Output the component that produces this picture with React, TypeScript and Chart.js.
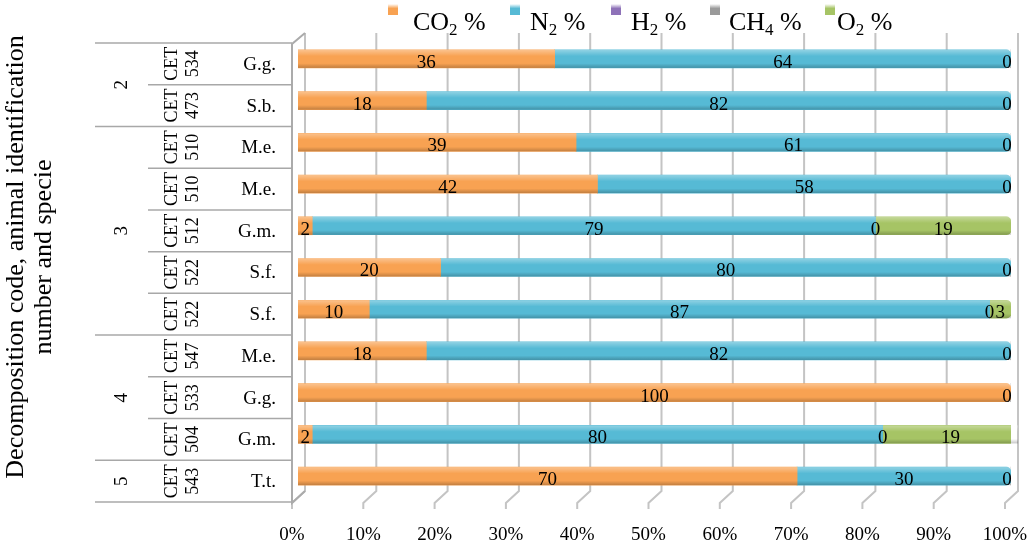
import React, { useEffect, useRef } from 'react';
import { Chart, registerables } from 'chart.js';

Chart.register(...registerables);

// rows, top to bottom
const decompositionCodes = ['2', '2', '3', '3', '3', '3', '3', '4', '4', '4', '5'];
const animalIds = ['534', '473', '510', '510', '512', '522', '522', '547', '533', '504', '543'];
const species = ['G.g.', 'S.b.', 'M.e.', 'M.e.', 'G.m.', 'S.f.', 'S.f.', 'M.e.', 'G.g.', 'G.m.', 'T.t.'];

// gas shares in %
const co2 = [36, 18, 39, 42, 2, 20, 10, 18, 100, 2, 70];
const n2 = [64, 82, 61, 58, 79, 80, 87, 82, null, 80, 30];
const h2 = [null, null, null, null, null, null, null, null, null, null, null];
const ch4 = [0, 0, 0, 0, 0, 0, 0, 0, 0, 0, 0];
const o2 = [null, null, null, null, 19, null, 3, null, null, 19, null];

const gasNames = ['CO', 'N', 'H', 'CH', 'O'];
const gasSubs = ['2', '2', '2', '4', '2'];
const gasColors = ['#F8A252', '#56BAD5', '#8E72B8', '#9A9A9A', '#A6C465'];

const xTicks = [0, 10, 20, 30, 40, 50, 60, 70, 80, 90, 100];

const FONT = "'Liberation Serif', 'Times New Roman', serif";

// 3d-ish walls and grid
const wallPlugin = {
  id: 'walls',
  beforeDatasetsDraw(chart: any) {
    const { ctx, chartArea, scales } = chart;
    ctx.save();
    ctx.strokeStyle = '#C4C4C4';
    ctx.lineWidth = 2;
    xTicks.forEach((v) => {
      const px = scales.x.getPixelForValue(v);
      const bx = px + 7;
      const fx = px - 6;
      ctx.beginPath();
      ctx.moveTo(bx, chartArea.top - 5);
      ctx.lineTo(bx, chartArea.bottom - 6);
      ctx.lineTo(fx, chartArea.bottom + 6);
      ctx.lineTo(fx, chartArea.bottom + 12);
      ctx.stroke();
    });
    const lx = chartArea.left - 6;
    ctx.strokeStyle = '#ABABAB';
    ctx.beginPath();
    ctx.moveTo(lx + 13, chartArea.top - 5);
    ctx.lineTo(lx, chartArea.top + 6);
    ctx.lineTo(lx, chartArea.bottom + 6);
    ctx.lineTo(lx + 13, chartArea.bottom - 6);
    ctx.stroke();
    ctx.restore();
  },
};

// shading on bars + value labels
const barLabelPlugin = {
  id: 'barLabels',
  afterDatasetsDraw(chart: any) {
    const { ctx } = chart;
    ctx.save();
    chart.data.datasets.forEach((ds: any, di: number) => {
      const meta = chart.getDatasetMeta(di);
      meta.data.forEach((el: any, i: number) => {
        const v = ds.data[i];
        if (v === null || v === undefined || v === 0) return;
        const left = Math.min(el.x, el.base);
        const w = Math.abs(el.x - el.base);
        const top = el.y - el.height / 2;
        const g = ctx.createLinearGradient(0, top, 0, top + el.height);
        g.addColorStop(0, 'rgba(255,255,255,0.35)');
        g.addColorStop(0.35, 'rgba(255,255,255,0)');
        g.addColorStop(0.75, 'rgba(0,0,0,0)');
        g.addColorStop(1, 'rgba(0,0,0,0.22)');
        ctx.fillStyle = g;
        ctx.fillRect(left, top, w, el.height);
      });
    });
    ctx.fillStyle = '#000';
    ctx.font = `19px ${FONT}`;
    ctx.textAlign = 'center';
    ctx.textBaseline = 'middle';
    chart.data.datasets.forEach((ds: any, di: number) => {
      const meta = chart.getDatasetMeta(di);
      meta.data.forEach((el: any, i: number) => {
        const v = ds.data[i];
        if (v === null || v === undefined) return;
        const cx = (el.x + el.base) / 2;
        ctx.fillText(String(v), Math.min(cx, chart.chartArea.right - 4), el.y + 4);
      });
    });
    ctx.restore();
  },
};

// category table, axis title, tick labels, legend
const framePlugin = {
  id: 'frame',
  afterDraw(chart: any) {
    const { ctx, chartArea, scales } = chart;
    const y = scales.y;
    const n = species.length;
    const band = (chartArea.bottom - chartArea.top) / n;
    const rowCenter = (i: number) => y.getPixelForValue(i) + 5;
    const rowEdge = (i: number) => chartArea.top + 5 + i * band;
    const tableRight = chartArea.left - 6;
    ctx.save();

    // table lines
    ctx.strokeStyle = '#A8A8A8';
    ctx.lineWidth = 1.5;
    for (let i = 0; i <= n; i++) {
      const group = i === 0 || i === n || decompositionCodes[i] !== decompositionCodes[i - 1];
      const ey = rowEdge(i);
      ctx.beginPath();
      ctx.moveTo(group ? 95 : 148, ey);
      ctx.lineTo(tableRight, ey);
      ctx.stroke();
    }

    ctx.fillStyle = '#000';
    ctx.textBaseline = 'middle';

    // group codes
    let start = 0;
    for (let i = 1; i <= n; i++) {
      if (i === n || decompositionCodes[i] !== decompositionCodes[start]) {
        const cy = (rowEdge(start) + rowEdge(i)) / 2;
        ctx.save();
        ctx.translate(122, cy);
        ctx.rotate(-Math.PI / 2);
        ctx.font = `19px ${FONT}`;
        ctx.textAlign = 'center';
        ctx.fillText(decompositionCodes[start], 0, 0);
        ctx.restore();
        start = i;
      }
    }

    // animal ids and species
    for (let i = 0; i < n; i++) {
      const cy = rowCenter(i);
      ctx.save();
      ctx.translate(182, cy);
      ctx.rotate(-Math.PI / 2);
      ctx.font = `18px ${FONT}`;
      ctx.textAlign = 'center';
      ctx.fillText('CET', 0, -10);
      ctx.fillText(animalIds[i], 0, 11);
      ctx.restore();
      ctx.font = `19px ${FONT}`;
      ctx.textAlign = 'right';
      ctx.fillText(species[i], 276, cy + 1);
    }

    // axis title
    ctx.save();
    ctx.translate(30, 257);
    ctx.rotate(-Math.PI / 2);
    ctx.font = `26px ${FONT}`;
    ctx.textAlign = 'center';
    ctx.fillText('Decomposition code, animal identification', 0, -14);
    ctx.fillText('number and specie', 0, 14);
    ctx.restore();

    // x tick labels
    ctx.font = `19px ${FONT}`;
    ctx.textAlign = 'center';
    xTicks.forEach((v) => {
      const px = scales.x.getPixelForValue(v) - 6;
      ctx.fillText(`${v}%`, px, 535);
    });

    // legend
    const boxX = [388, 510, 611, 710, 825];
    const textX = [413, 530, 631, 729, 837];
    ctx.textAlign = 'left';
    ctx.textBaseline = 'alphabetic';
    gasNames.forEach((name, i) => {
      const g = ctx.createLinearGradient(0, 4, 0, 15);
      g.addColorStop(0, '#FFFFFF');
      g.addColorStop(0.4, gasColors[i]);
      g.addColorStop(1, gasColors[i]);
      ctx.fillStyle = g;
      ctx.fillRect(boxX[i], 4, 10, 11);
      ctx.fillStyle = '#000';
      let tx = textX[i];
      ctx.font = `26px ${FONT}`;
      ctx.fillText(name, tx, 30);
      tx += ctx.measureText(name).width;
      ctx.font = `17px ${FONT}`;
      ctx.fillText(gasSubs[i], tx, 35);
      tx += ctx.measureText(gasSubs[i]).width;
      ctx.font = `26px ${FONT}`;
      ctx.fillText(' %', tx, 30);
    });

    ctx.restore();
  },
};

const App: React.FC = () => {
  const canvasRef = useRef<HTMLCanvasElement>(null);
  const chartRef = useRef<Chart | null>(null);

  useEffect(() => {
    document.body.style.margin = '0';
    if (!canvasRef.current) return;
    const ctx = canvasRef.current.getContext('2d');
    if (!ctx) return;

    if (chartRef.current) {
      chartRef.current.destroy();
      chartRef.current = null;
    }

    const series = [co2, n2, h2, ch4, o2];
    const lastIndex = species.map((_, i) => {
      let last = -1;
      series.forEach((s, si) => {
        const v = s[i];
        if (v !== null && v !== 0) last = si;
      });
      return last;
    });

    chartRef.current = new Chart(ctx, {
      type: 'bar',
      data: {
        labels: species.map((s, i) => `${s} CET ${animalIds[i]}`),
        datasets: series.map((s, si) => ({
          label: `${gasNames[si]}${gasSubs[si]} %`,
          data: s,
          backgroundColor: gasColors[si],
          barThickness: 18,
          borderRadius: (c: any) =>
            lastIndex[c.dataIndex] === si ? { topLeft: 0, bottomLeft: 0, topRight: 5, bottomRight: 5 } : 0,
          borderSkipped: false,
        })),
      },
      options: {
        indexAxis: 'y',
        animation: false,
        responsive: false,
        layout: { padding: { left: 298, right: 17, top: 38, bottom: 48 } },
        scales: {
          x: { stacked: true, min: 0, max: 100, display: false },
          y: { stacked: true, display: false },
        },
        plugins: {
          legend: { display: false },
          tooltip: { enabled: false },
        },
      },
      plugins: [wallPlugin, barLabelPlugin, framePlugin],
    });

    return () => {
      if (chartRef.current) {
        chartRef.current.destroy();
        chartRef.current = null;
      }
    };
  }, []);

  return (
    <div style={{ width: 1028, height: 545, background: '#fff' }}>
      <canvas ref={canvasRef} width={1028} height={545}></canvas>
    </div>
  );
};

export default App;
